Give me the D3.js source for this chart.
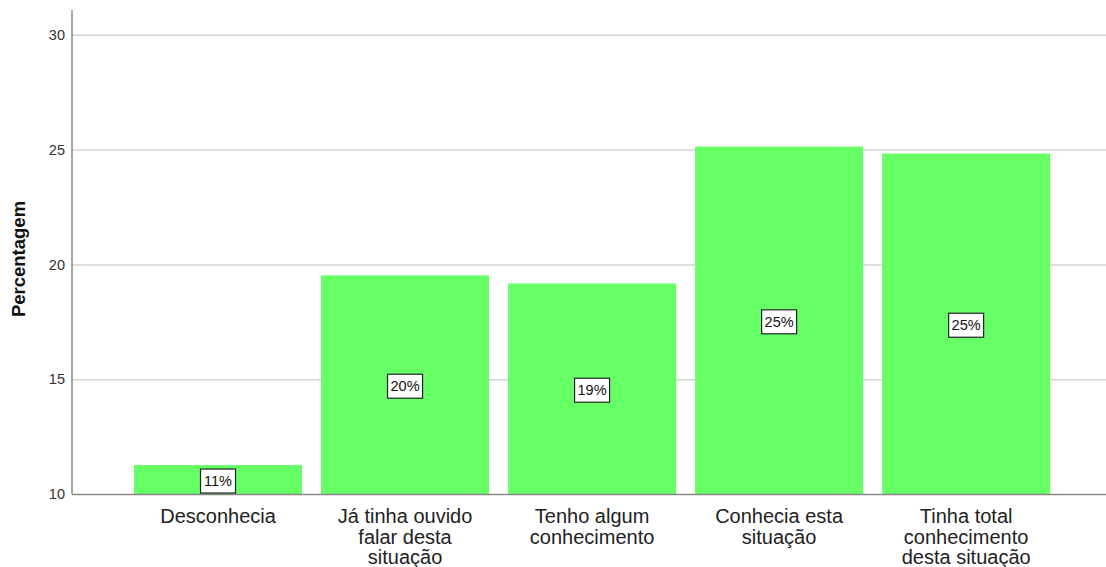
<!DOCTYPE html>
<meta charset="utf-8">
<style>
  body { margin: 0; background: #fff; }
  text { font-family: Arial, "Liberation Sans", sans-serif; }
</style>
<script src="https://cdn.jsdelivr.net/npm/d3@7"></script>
<div id="my_dataviz"></div>
<script>

// data
var categories = [
  ["Desconhecia"],
  ["Já tinha ouvido", "falar desta", "situação"],
  ["Tenho algum", "conhecimento"],
  ["Conhecia esta", "situação"],
  ["Tinha total", "conhecimento", "desta situação"]
];
var percentages = [11.26, 19.52, 19.17, 25.13, 24.83];
var barLabels = ["11%", "20%", "19%", "25%", "25%"];
var yTicks = [10, 15, 20, 25, 30];

var W = 1106, H = 567;
var plotLeft = 72, plotRight = 1106, plotTop = 10, plotBottom = 494;

var svg = d3.select("#my_dataviz")
  .append("svg")
    .attr("width", W)
    .attr("height", H);

var keys = categories.map(function(d) { return d.join(" "); });

var x = d3.scaleBand()
  .domain(keys)
  .range([124.65, 1059.5])
  .paddingInner(0.1016)
  .paddingOuter(0.05);

var y = d3.scaleLinear()
  .domain([10, 31.08])
  .range([plotBottom, plotTop]);

// gridlines
svg.append("g")
  .selectAll("line")
  .data(yTicks.filter(function(t) { return t > 10; }))
  .enter()
  .append("line")
    .attr("x1", plotLeft)
    .attr("x2", plotRight)
    .attr("y1", function(d) { return y(d) + 0.5; })
    .attr("y2", function(d) { return y(d) + 0.5; })
    .attr("stroke", "#d4d4d4")
    .attr("stroke-width", 1.5);

// bars
svg.append("g")
  .selectAll("rect")
  .data(percentages)
  .enter()
  .append("rect")
    .attr("x", function(d, i) { return x(keys[i]); })
    .attr("y", function(d) { return y(d); })
    .attr("width", x.bandwidth())
    .attr("height", function(d) { return plotBottom - y(d); })
    .attr("fill", "#66ff66");

// y axis
var yAxis = svg.append("g")
  .attr("transform", "translate(" + plotLeft + ",0)")
  .call(d3.axisLeft(y).tickValues(yTicks).tickSize(0).tickPadding(7));
yAxis.select(".domain").remove();
yAxis.selectAll("text")
  .attr("font-size", 14.5)
  .attr("font-family", "Arial, 'Liberation Sans', sans-serif")
  .attr("fill", "#333");

svg.append("line")
  .attr("x1", plotLeft).attr("x2", plotLeft)
  .attr("y1", plotTop).attr("y2", plotBottom)
  .attr("stroke", "#888").attr("stroke-width", 1.5);

// x axis baseline
svg.append("line")
  .attr("x1", plotLeft).attr("x2", plotRight)
  .attr("y1", plotBottom + 0.5).attr("y2", plotBottom + 0.5)
  .attr("stroke", "#888").attr("stroke-width", 1.5);

// category labels
var cat = svg.append("g")
  .selectAll("text")
  .data(categories)
  .enter()
  .append("text")
    .attr("text-anchor", "middle")
    .attr("font-size", 20)
    .attr("fill", "#222")
    .attr("transform", function(d, i) {
      return "translate(" + (x(keys[i]) + x.bandwidth() / 2) + ",523)";
    });
cat.selectAll("tspan")
  .data(function(d) { return d; })
  .enter()
  .append("tspan")
    .attr("x", 0)
    .attr("y", function(d, j) { return j * 20.5; })
    .text(function(d) { return d; });

// value labels in boxes
var lab = svg.append("g")
  .selectAll("g")
  .data(percentages)
  .enter()
  .append("g")
    .attr("transform", function(d, i) {
      return "translate(" + (x(keys[i]) + x.bandwidth() / 2) + "," + ((y(d) + plotBottom) / 2 + 1.5) + ")";
    });
lab.append("rect")
  .attr("x", -17.5).attr("y", -12)
  .attr("width", 35).attr("height", 24)
  .attr("fill", "#fff")
  .attr("stroke", "#222")
  .attr("stroke-width", 1.2);
lab.append("text")
  .attr("text-anchor", "middle")
  .attr("dy", "0.36em")
  .attr("font-size", 14.5)
  .attr("fill", "#111")
  .text(function(d, i) { return barLabels[i]; });

// y axis title
svg.append("text")
  .attr("transform", "translate(25,259) rotate(-90)")
  .attr("text-anchor", "middle")
  .attr("font-size", 18.5)
  .attr("font-weight", "bold")
  .attr("fill", "#111")
  .text("Percentagem");

</script>
